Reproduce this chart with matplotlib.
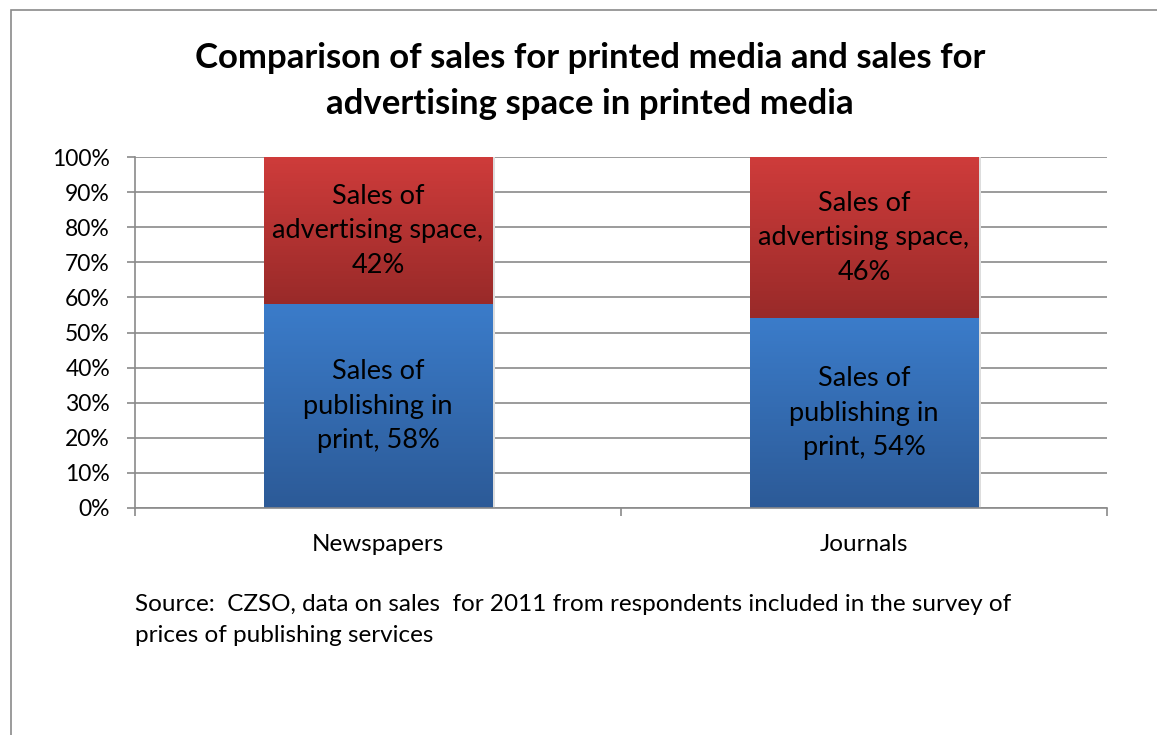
import numpy as np
import matplotlib.pyplot as plt
from matplotlib.colors import LinearSegmentedColormap
from matplotlib.patches import Rectangle

plt.rcParams['font.family'] = ['Lato', 'DejaVu Sans']

categories = ['Newspapers', 'Journals']
print_share = [58, 54]
advert_share = [42, 46]
print_labels = ['Sales of\npublishing in\nprint, 58%', 'Sales of\npublishing in\nprint, 54%']
advert_labels = ['Sales of\nadvertising space,\n42%', 'Sales of\nadvertising space,\n46%']
yticks = np.arange(0, 101, 10)

fig = plt.figure(figsize=(11.57, 7.35), dpi=100)
# outer chart border (open at bottom/right as in the cropped screenshot)
fig.add_artist(Rectangle((11 / 1157, -0.1), 1.2, 1 - 10 / 735 + 0.1, transform=fig.transFigure,
                         fill=False, edgecolor='#8a8a8a', linewidth=1.2))

ax = fig.add_axes([135 / 1157, 1 - 508 / 735, (1107 - 135) / 1157, (508 - 157) / 735])

x = np.arange(len(categories))
width = 0.47
blue_cm = LinearSegmentedColormap.from_list('blue', ['#2c5a97', '#3b7cca'])
red_cm = LinearSegmentedColormap.from_list('red', ['#992a29', '#cf3c3b'])

b1 = ax.bar(x, print_share, width, color='#3470b5', zorder=2)
b2 = ax.bar(x, advert_share, width, bottom=print_share, color='#b83332', zorder=2)

grad = np.linspace(0, 1, 256).reshape(-1, 1)
for bars, cm in [(b1, blue_cm), (b2, red_cm)]:
    for p in bars:
        x0, y0 = p.get_x(), p.get_y()
        w, h = p.get_width(), p.get_height()
        # soft shadow on the right
        ax.add_patch(Rectangle((x0 + w, y0), 0.006, h, color='#dddddd', zorder=1.5, lw=0))
        im = ax.imshow(grad, extent=[x0, x0 + w, y0, y0 + h], origin='lower',
                       cmap=cm, aspect='auto', zorder=2.5)
        im.set_clip_path(p)

for i in range(len(categories)):
    ax.text(x[i], print_share[i] / 2, print_labels[i], ha='center', va='center',
            fontsize=19.5, linespacing=1.48, zorder=4)
    ax.text(x[i], print_share[i] + advert_share[i] / 2, advert_labels[i], ha='center',
            va='center', fontsize=19.5, linespacing=1.48, zorder=4)

ax.set_xlim(-0.5, 1.5)
ax.set_ylim(0, 100)
ax.set_yticks(yticks)
ax.set_yticklabels([f'{t}%' for t in yticks], fontsize=16.5)
ax.set_xticks(x)
ax.set_xticklabels(categories, fontsize=17.5)
ax.tick_params(axis='x', length=0, pad=19)
ax.tick_params(axis='y', length=6, color='#8a8a8a', width=1.2, pad=12)
ax.set_xticks([-0.5, 0.5, 1.5], minor=True)
ax.tick_params(axis='x', which='minor', length=6, color='#8a8a8a', width=1.2, direction='out')
ax.grid(axis='y', color='#8a8a8a', linewidth=1.2, zorder=0)
ax.set_axisbelow(True)
for s in ['top', 'right']:
    ax.spines[s].set_visible(False)
for s in ['left', 'bottom']:
    ax.spines[s].set_color('#8a8a8a')
    ax.spines[s].set_linewidth(1.2)

fig.text(590 / 1157, 1 - 81 / 735,
         'Comparison of sales for printed media and sales for\nadvertising space in printed media',
         ha='center', va='center', fontsize=25, fontweight='bold', linespacing=1.55)
fig.text(135 / 1157, 1 - 620 / 735,
         'Source:  CZSO, data on sales  for 2011 from respondents included in the survey of\n'
         'prices of publishing services', ha='left', va='center', fontsize=17.5, linespacing=1.54)

fig.savefig('out.png', dpi=100)
